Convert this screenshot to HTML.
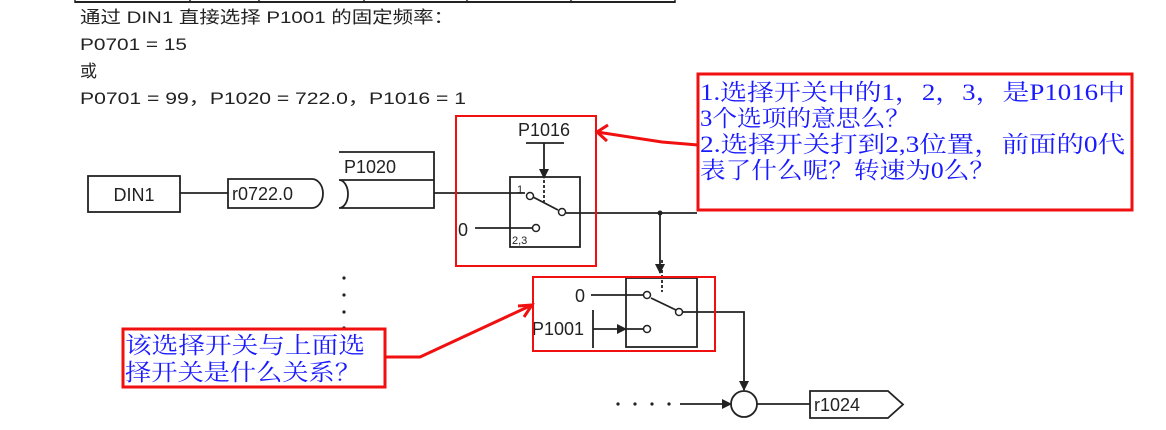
<!DOCTYPE html>
<html><head><meta charset="utf-8"><style>
html,body{margin:0;padding:0;background:#fff;width:1166px;height:430px;overflow:hidden}
svg{display:block}
.d{font-family:"Liberation Sans","Noto Sans CJK SC",sans-serif;fill:#222}
.b{font-family:"Liberation Serif","Noto Serif CJK SC",serif;fill:#1a1aff;font-size:23px}
</style></head><body>
<svg width="1166" height="430" viewBox="0 0 1166 430">
<defs>
<marker id="a" markerWidth="10" markerHeight="10" refX="9" refY="5" orient="auto" markerUnits="userSpaceOnUse"><path d="M0,0 L10,5 L0,10 z" fill="#222"/></marker>
</defs>
<line x1="75" y1="2" x2="675" y2="2" stroke="#222" stroke-width="2"/>
<g stroke="#222" stroke-width="1.5"><line x1="75" y1="0" x2="75" y2="3"/><line x1="190" y1="0" x2="190" y2="3"/><line x1="259" y1="0" x2="259" y2="3"/><line x1="364" y1="0" x2="364" y2="3"/><line x1="467" y1="0" x2="467" y2="3"/><line x1="571" y1="0" x2="571" y2="3"/><line x1="675" y1="0" x2="675" y2="3"/></g>
<g class="d" font-size="17">
<text x="80" y="23" textLength="374" lengthAdjust="spacingAndGlyphs">通过 DIN1 直接选择 P1001 的固定频率：</text>
<text x="80" y="50" textLength="107" lengthAdjust="spacingAndGlyphs">P0701 = 15</text>
<text x="80" y="77">或</text>
<text x="80" y="104" textLength="386" lengthAdjust="spacingAndGlyphs">P0701 = 99，P1020 = 722.0，P1016 = 1</text>
</g>
<g stroke="#222" stroke-width="1.8" fill="none">
<rect x="88" y="176" width="92" height="36"/>
<line x1="180" y1="193" x2="228" y2="193"/>
<path d="M228,179 H312 A11,14.5 0 0 1 312,208 H228 Z"/>
<path d="M339,152 H434 V208 H339 M339,180 H434 M339,180 A9,14 0 0 1 339,208"/>
<line x1="434" y1="193" x2="525" y2="193"/>
<rect x="510" y="177" width="70" height="70"/>
<line x1="526" y1="143" x2="564" y2="143"/>
<line x1="544" y1="143" x2="544" y2="178" marker-end="url(#a)"/>
<line x1="544" y1="180" x2="544" y2="202" stroke-dasharray="3,2"/>
<line x1="533" y1="197" x2="558" y2="210"/>
<line x1="566" y1="213" x2="697" y2="213"/>
<line x1="475" y1="228" x2="532" y2="228"/>
<line x1="660" y1="213" x2="660" y2="273" marker-end="url(#a)"/>
<rect x="626" y="278" width="71" height="69"/>
<line x1="662" y1="260" x2="662" y2="292" stroke-dasharray="3,2"/>
<line x1="591" y1="295" x2="644" y2="295"/>
<line x1="651" y1="298" x2="676" y2="310"/>
<line x1="593" y1="310" x2="593" y2="348"/>
<line x1="593" y1="329" x2="626" y2="329" marker-end="url(#a)"/>
<line x1="626" y1="329" x2="644" y2="329"/>
<path d="M683,312 H744 V390" marker-end="url(#a)"/>
<circle cx="744" cy="404" r="13"/>
<line x1="680" y1="404" x2="731" y2="404" marker-end="url(#a)"/>
<line x1="757" y1="404" x2="810" y2="404"/>
<path d="M810,391 H888 L903,404.5 L888,418 H810 Z"/>
</g>
<g fill="#fff" stroke="#222" stroke-width="1.5">
<circle cx="530" cy="196" r="3.5"/><circle cx="562" cy="212" r="3.5"/><circle cx="536" cy="228" r="3.5"/>
<circle cx="647" cy="295" r="3.5"/><circle cx="679" cy="312" r="3.5"/><circle cx="647" cy="329" r="3.5"/>
</g>
<circle cx="660" cy="213" r="2.5" fill="#222"/>
<g fill="#222"><circle cx="344" cy="278" r="1.6"/><circle cx="344" cy="295" r="1.6"/><circle cx="344" cy="312" r="1.6"/><circle cx="344" cy="328" r="1.6"/>
<circle cx="618" cy="404" r="1.6"/><circle cx="635" cy="404" r="1.6"/><circle cx="652" cy="404" r="1.6"/><circle cx="669" cy="404" r="1.6"/></g>
<g class="d" font-size="18">
<text x="134" y="201" text-anchor="middle">DIN1</text>
<text x="232" y="200">r0722.0</text>
<text x="344" y="173">P1020</text>
<text x="544" y="136" text-anchor="middle">P1016</text>
<text x="458" y="236">0</text>
<text x="575" y="302">0</text>
<text x="532" y="335">P1001</text>
<text x="814" y="411">r1024</text>
</g>
<g class="d" font-size="11"><text x="517" y="193">1</text><text x="512" y="244">2,3</text></g>
<g stroke="#f01010" fill="none" stroke-width="2">
<rect x="456" y="116" width="140" height="150"/>
<rect x="533" y="277" width="182" height="74"/>
</g>
<g stroke="#f01010" fill="none" stroke-width="3">
<rect x="698" y="74" width="434" height="136"/>
<rect x="123" y="329" width="262" height="58"/>
<path d="M698,145 L662,142 L597,132"/>
<path d="M608,125 L597,132 L607,141"/>
<path d="M385,357 L420,357 L532,305"/>
<path d="M518,306 L532,305 L524,317"/>
</g>
<g class="b">
<text x="700" y="100" textLength="425" lengthAdjust="spacingAndGlyphs">1.选择开关中的1，2，3，是P1016中</text>
<text x="700" y="126" textLength="210" lengthAdjust="spacingAndGlyphs">3个选项的意思么？</text>
<text x="700" y="152" textLength="425" lengthAdjust="spacingAndGlyphs">2.选择开关打到2,3位置，前面的0代</text>
<text x="700" y="178" textLength="295" lengthAdjust="spacingAndGlyphs">表了什么呢？转速为0么？</text>
<text x="125" y="353" textLength="240" lengthAdjust="spacingAndGlyphs">该选择开关与上面选</text>
<text x="125" y="380" textLength="236" lengthAdjust="spacingAndGlyphs">择开关是什么关系？</text>
</g>
</svg>
</body></html>
